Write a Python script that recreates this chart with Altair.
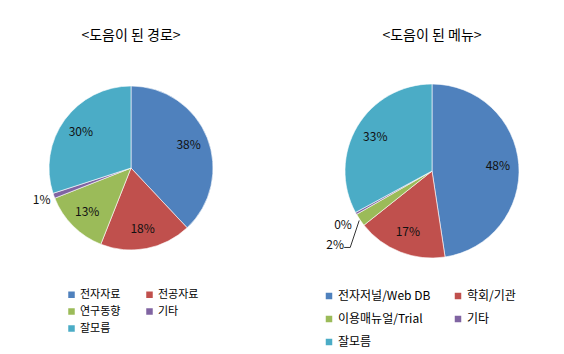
import math
import altair as alt
import pandas as pd

# ---- data ----
route_cats = ["전자자료", "전공자료", "연구동향", "기타", "잘모름"]
route_vals = [38, 18, 13, 1, 30]
route_labels = ["38%", "18%", "13%", "1%", "30%"]

menu_cats = ["전자저널/Web DB", "학회/기관", "이용매뉴얼/Trial", "기타", "잘모름"]
menu_vals = [47.6, 16.7, 2.4, 0.4, 32.9]
menu_labels = ["48%", "17%", "2%", "0%", "33%"]

colors = ["#4F81BD", "#C0504D", "#9BBB59", "#8064A2", "#4BACC6"]

FONT = "Noto Sans CJK KR"
V = 50  # view top offset (title area)


def leader_points(vals, idx, w, h, r, elbow, tail):
    """Leader line derived from the slice's mid angle."""
    total = sum(vals)
    mid = (sum(vals[:idx]) + vals[idx] / 2) / total * 2 * math.pi
    x0 = w / 2 + (r + 1) * math.sin(mid)
    y0 = h / 2 - (r + 1) * math.cos(mid)
    x1, y1 = x0 + elbow[0], y0 + elbow[1]
    x2, y2 = x1 + tail, y1
    return pd.DataFrame({"x": [x0, x1, x2], "y": [y0, y1, y2], "k": [0, 1, 2]})


def panel(cats, vals, labels, title, w, h, r, label_r, small, legend, leader=None):
    df = pd.DataFrame({"cat": cats, "value": vals, "label": labels,
                       "order": list(range(len(cats)))})
    base = alt.Chart(df).encode(
        theta=alt.Theta("value:Q", stack=True),
        order=alt.Order("order:Q"),
    )
    arc = base.mark_arc(outerRadius=r, stroke="white", strokeWidth=0.6).encode(
        color=alt.Color("cat:N", sort=cats,
                        scale=alt.Scale(domain=cats, range=colors),
                        legend=legend)
    )
    big = base.transform_calculate(
        t="datum.value >= 5 ? datum.label : ''"
    ).mark_text(radius=label_r, fontSize=12, font=FONT, color="#111").encode(text="t:N")
    layers = [arc, big]
    for cat, (rad, dx, dy) in small.items():
        layers.append(
            base.transform_calculate(
                t=f"datum.cat == '{cat}' ? datum.label : ''"
            ).mark_text(radius=rad, dx=dx, dy=dy, fontSize=12, font=FONT,
                        color="#111").encode(text="t:N")
        )
    if leader is not None:
        ldf = leader_points(vals, *leader)
        layers.append(
            alt.Chart(ldf).mark_line(color="#333", strokeWidth=1).encode(
                x=alt.X("x:Q", scale=None),
                y=alt.Y("y:Q", scale=None),
                order="k:Q",
            )
        )
    return alt.layer(*layers).properties(
        width=w, height=h,
        title=alt.Title(title, anchor="middle", frame="group"),
    )


left_legend = alt.Legend(
    title=None, orient="none", legendX=66, legendY=289 - V, columns=2,
    direction="horizontal", columnPadding=21, rowPadding=2,
    symbolType="square", symbolSize=64, labelOffset=3, labelFontSize=11,
    labelFont=FONT, padding=0, labelColor="#000",
)
right_legend = alt.Legend(
    title=None, orient="none", legendX=21, legendY=290 - V, columns=2,
    direction="horizontal", columnPadding=20, rowPadding=9,
    symbolType="square", symbolSize=64, labelOffset=3, labelFontSize=12,
    labelFont=FONT, padding=0, labelColor="#000",
)

RW, RH, RR = 260, 242, 87
left = panel(route_cats, route_vals, route_labels, "<도음이 된 경로>",
             262, 236, 82, 62, {"기타": (95, 0, 0)}, left_legend)
right = panel(menu_cats, menu_vals, menu_labels, "<도음이 된 메뉴>",
              RW, RH, RR, 66,
              {"기타": (103, 1, 4), "이용매뉴얼/Trial": (122, 4, 5)},
              right_legend,
              leader=(2, RW, RH, RR, (-9, 27), -6))

chart = alt.hconcat(left, right, spacing=40).resolve_scale(
    color="independent", theta="independent"
).properties(
    padding={"left": 0, "top": 29, "right": 0, "bottom": 0}
).configure_view(stroke=None).configure_title(
    fontSize=14, fontWeight="normal", font=FONT, color="#000", offset=7
)

chart.save("out.html", embed_options={"renderer": "svg", "actions": False})
